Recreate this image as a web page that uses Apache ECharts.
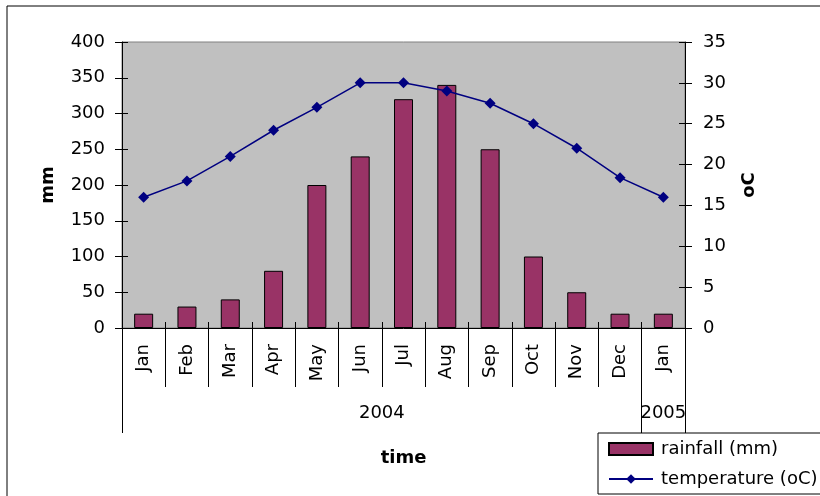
<!DOCTYPE html>
<html>
<head>
<meta charset="utf-8">
<title>Rainfall and temperature</title>
<script src="https://cdn.jsdelivr.net/npm/echarts@6/dist/echarts.min.js"></script>
<style>
  html, body { margin: 0; padding: 0; background: #fff; }
  #chart { width: 820px; height: 496px; }
</style>
</head>
<body>
<div id="chart"></div>
<script>
// Monthly rainfall (bars, left axis) and mean temperature (line, right axis)
const months = ['Jan', 'Feb', 'Mar', 'Apr', 'May', 'Jun', 'Jul', 'Aug', 'Sep', 'Oct', 'Nov', 'Dec', 'Jan'];
const rainfall = [20, 30, 40, 80, 200, 240, 320, 340, 250, 100, 50, 20, 20];
const temperature = [16, 18, 21, 24.2, 27, 30, 30, 29, 27.5, 25, 22, 18.4, 16];
// Year groups under the month labels: [first month index, month count, label]
const yearGroups = [[0, 12, '2004'], [12, 1, '2005']];
const rainTicks = { min: 0, max: 400, interval: 50 };
const tempTicks = { min: 0, max: 35, interval: 5 };

const FONT = 'DejaVu Sans';
const txt = { color: '#000', fontFamily: FONT, fontSize: 18 };

// group boundaries and centres on a 0..n value scale across the category band
const groupEdges = [0];
const groupCentres = {};
yearGroups.forEach(([start, count, label]) => {
  groupEdges.push(start + count);
  groupCentres[start + count / 2] = label;
});

const chart = echarts.init(document.getElementById('chart'), null, { renderer: 'canvas' });

chart.setOption({
  animation: false,
  backgroundColor: '#fff',
  textStyle: { fontFamily: FONT },
  graphic: [{
    type: 'rect',
    shape: { x: 7, y: 6, width: 900, height: 600 },
    style: { fill: 'none', stroke: '#000', lineWidth: 1 },
    silent: true
  }],
  grid: {
    left: 122, top: 42, width: 563, height: 286,
    show: true, backgroundColor: '#C0C0C0',
    borderColor: '#808080', borderWidth: 1
  },
  legend: {
    orient: 'vertical',
    left: 598, top: 433,
    padding: [7, 40, 6, 10],
    itemGap: 12,
    itemWidth: 44, itemHeight: 12,
    borderColor: '#000', borderWidth: 1,
    backgroundColor: '#fff',
    textStyle: Object.assign({}, txt, { padding: [0, 0, 0, 3] }),
    data: [
      { name: 'rainfall (mm)', icon: 'rect' },
      { name: 'temperature (oC)' }
    ]
  },
  xAxis: [
    {
      type: 'category',
      data: months,
      boundaryGap: true,
      axisLine: { lineStyle: { color: '#000', width: 1 } },
      axisTick: { show: true, interval: 0, length: 59, lineStyle: { color: '#000' } },
      axisLabel: Object.assign({ interval: 0, rotate: 90, margin: 16 }, txt),
      splitLine: { show: false },
      name: 'time',
      nameLocation: 'middle',
      nameGap: 121,
      nameTextStyle: Object.assign({}, txt, { fontWeight: 'bold' })
    },
    {
      // year level of the category axis
      type: 'value',
      min: 0, max: months.length,
      position: 'bottom',
      axisLine: { show: false },
      axisTick: { show: true, customValues: groupEdges, length: 105, lineStyle: { color: '#000' } },
      axisLabel: Object.assign({
        customValues: Object.keys(groupCentres).map(Number),
        formatter: v => groupCentres[v] || '',
        margin: 76
      }, txt),
      splitLine: { show: false }
    },
    {
      // short tick marks crossing into the plot area
      type: 'category',
      data: months,
      boundaryGap: true,
      position: 'bottom',
      axisLine: { show: false },
      axisTick: { show: true, inside: true, interval: 0, length: 6, lineStyle: { color: '#000' } },
      axisLabel: { show: false },
      splitLine: { show: false }
    }
  ],
  yAxis: [
    {
      type: 'value',
      min: rainTicks.min, max: rainTicks.max, interval: rainTicks.interval,
      position: 'left',
      axisLine: { show: true, lineStyle: { color: '#000' } },
      axisTick: { show: true, length: 7, lineStyle: { color: '#000' } },
      axisLabel: Object.assign({ margin: 17 }, txt),
      splitLine: { show: false },
      name: 'mm',
      nameLocation: 'middle',
      nameRotate: 90,
      nameGap: 65,
      nameTextStyle: Object.assign({}, txt, { fontWeight: 'bold' })
    },
    {
      type: 'value',
      min: tempTicks.min, max: tempTicks.max, interval: tempTicks.interval,
      position: 'right',
      axisLine: { show: true, lineStyle: { color: '#000' } },
      axisTick: { show: true, length: 7, lineStyle: { color: '#000' } },
      axisLabel: Object.assign({ margin: 18 }, txt),
      splitLine: { show: false },
      name: 'oC',
      nameLocation: 'middle',
      nameRotate: 90,
      nameGap: 55,
      nameTextStyle: Object.assign({}, txt, { fontWeight: 'bold' })
    },
    {
      type: 'value',
      min: rainTicks.min, max: rainTicks.max, interval: rainTicks.interval,
      position: 'left',
      axisLine: { show: false },
      axisTick: { show: true, inside: true, length: 6, lineStyle: { color: '#000' } },
      axisLabel: { show: false },
      splitLine: { show: false }
    },
    {
      type: 'value',
      min: tempTicks.min, max: tempTicks.max, interval: tempTicks.interval,
      position: 'right',
      axisLine: { show: false },
      axisTick: { show: true, inside: true, length: 6, lineStyle: { color: '#000' } },
      axisLabel: { show: false },
      splitLine: { show: false }
    }
  ],
  series: [
    {
      name: 'rainfall (mm)',
      type: 'bar',
      xAxisIndex: 0,
      yAxisIndex: 0,
      data: rainfall,
      barWidth: 19,
      itemStyle: { color: '#993366', borderColor: '#000', borderWidth: 1 }
    },
    {
      name: 'temperature (oC)',
      type: 'line',
      xAxisIndex: 0,
      yAxisIndex: 1,
      data: temperature,
      symbol: 'diamond',
      symbolSize: 11,
      z: 3,
      lineStyle: { color: '#000080', width: 1.5 },
      itemStyle: { color: '#000080' }
    }
  ]
});
</script>
</body>
</html>
